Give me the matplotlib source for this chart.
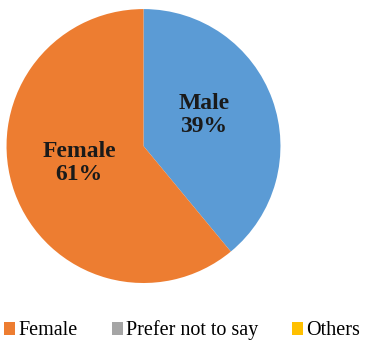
import matplotlib
matplotlib.use("Agg")
import matplotlib.pyplot as plt
from matplotlib.patches import Patch

categories = ["Male", "Female", "Prefer not to say", "Others"]
values = [39, 61, 0, 0]
colors = ["#5B9BD5", "#ED7D31", "#A5A5A5", "#FFC000"]
legend_items = ["Female", "Prefer not to say", "Others"]

plt.rcParams['font.family'] = ['Liberation Serif', 'DejaVu Serif']

fig = plt.figure(figsize=(3.65, 3.45), dpi=100)
ax = fig.add_axes([0.0178, 0.1797, 0.7507, 0.794])

pv = [v for v in values if v > 0]
pc = [c for v, c in zip(values, colors) if v > 0]
pl = [k for v, k in zip(values, categories) if v > 0]
wedges, _ = ax.pie(pv, colors=pc, startangle=90, counterclock=False,
                   wedgeprops=dict(linewidth=0))
ax.set_xlim(-1, 1)
ax.set_ylim(-1, 1)
ax.set_aspect('equal')

label_pos = {"Male": (0.44, 0.225), "Female": (-0.47, -0.125)}
for name, v in zip(pl, pv):
    x, y = label_pos[name]
    ax.text(x, y, f"{name}\n{v}%", ha='center', va='center', fontsize=17,
            fontweight='bold', color='#1a1a1a', linespacing=1.15)

handles = [Patch(facecolor=colors[categories.index(n)], edgecolor='none') for n in legend_items]
fig.legend(handles, legend_items, loc='lower left', bbox_to_anchor=(-0.01, -0.01),
           ncol=3, frameon=False, fontsize=14.5, handlelength=0.55, handleheight=0.6,
           handletextpad=0.15, columnspacing=1.68, borderaxespad=0)

fig.savefig("out.png", dpi=100)
